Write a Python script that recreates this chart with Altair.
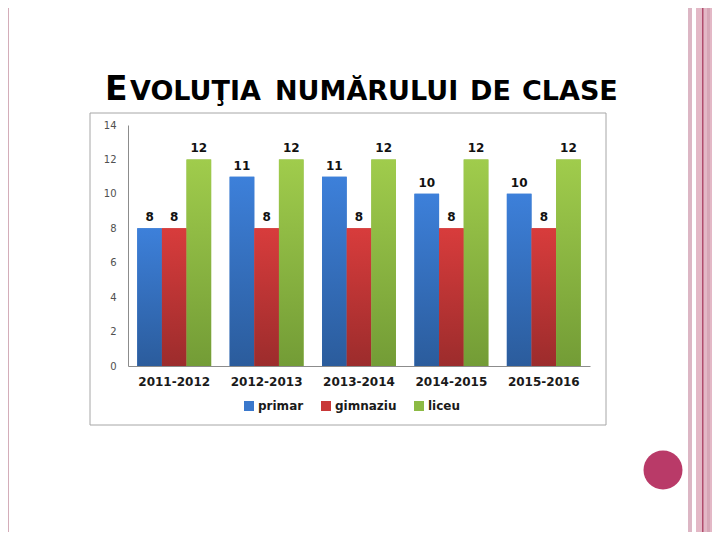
import altair as alt
import pandas as pd

years = ["2011-2012", "2012-2013", "2013-2014", "2014-2015", "2015-2016"]
series_names = ["primar", "gimnaziu", "liceu"]
primar = [8, 11, 11, 10, 10]
gimnaziu = [8, 8, 8, 8, 8]
liceu = [12, 12, 12, 12, 12]
y_ticks = [0, 2, 4, 6, 8, 10, 12, 14]

flat_colors = ["#3a78cc", "#c83838", "#8cba44"]
grad_colors = {
    "primar": ("#3d80da", "#2b5c9c"),
    "gimnaziu": ("#d83c3c", "#9c2c2c"),
    "liceu": ("#a0cc4c", "#739c36"),
}

rows = []
for i, yr in enumerate(years):
    for s, vals in zip(series_names, [primar, gimnaziu, liceu]):
        rows.append({"an": yr, "serie": s, "clase": vals[i]})
df = pd.DataFrame(rows)

FONT = "DejaVu Sans"

x_axis = alt.Axis(labelAngle=0, labelFont=FONT, labelFontWeight="bold",
                  labelFontSize=12, labelColor="#1a1a1a", ticks=False,
                  labelPadding=10, domainColor="#8c8c8c", grid=False)
y_axis = alt.Axis(values=y_ticks, labelFont=FONT, labelFontSize=10,
                  labelColor="#505050", ticks=False, labelPadding=12,
                  labelOverlap=False, domainColor="#8c8c8c", grid=False)

x_enc = alt.X("an:N", sort=years, title=None,
              scale=alt.Scale(paddingInner=0.2, paddingOuter=0.1), axis=x_axis)
xo_enc = alt.XOffset("serie:N", scale=alt.Scale(domain=series_names, paddingInner=0, paddingOuter=0))
y_enc = alt.Y("clase:Q", title=None, scale=alt.Scale(domain=[0, 14], nice=False), axis=y_axis)

base_bars = alt.Chart(df).mark_bar().encode(
    x=x_enc, xOffset=xo_enc, y=y_enc,
    color=alt.Color("serie:N", scale=alt.Scale(domain=series_names, range=flat_colors),
                    legend=alt.Legend(title=None, orient="none", legendX=115, legendY=275,
                                      direction="horizontal", symbolType="square",
                                      symbolSize=100, symbolStrokeWidth=0,
                                      labelFont=FONT, labelFontWeight="bold",
                                      labelFontSize=12, labelColor="#1a1a1a",
                                      labelOffset=3, columnPadding=16)),
)

grad_layers = []
for s in series_names:
    top, bot = grad_colors[s]
    grad = alt.LinearGradient(gradient="linear", x1=0, x2=0, y1=0, y2=1,
                              stops=[alt.GradientStop(offset=0, color=top),
                                     alt.GradientStop(offset=1, color=bot)])
    grad_layers.append(
        alt.Chart(df).transform_filter(alt.datum.serie == s)
        .mark_bar(color=grad).encode(
            x=alt.X("an:N", sort=years, title=None, axis=x_axis),
            xOffset="serie:N",
            y=alt.Y("clase:Q", title=None, axis=y_axis))
    )

labels = alt.Chart(df).mark_text(font=FONT, fontWeight="bold", fontSize=12,
                                 color="#111111", dy=-7, baseline="alphabetic").encode(
    x=alt.X("an:N", sort=years, title=None, axis=x_axis),
    xOffset="serie:N",
    y=alt.Y("clase:Q", title=None, axis=y_axis),
    text="clase:Q")

one = pd.DataFrame({"k": [0]})

def rect(x, x2, y, y2, **kw):
    return alt.Chart(one).mark_rect(**kw).encode(
        x=alt.value(x), x2=alt.value(x2), y=alt.value(y), y2=alt.value(y2))

frame = rect(-38, 478, -12, 300, fillOpacity=0, stroke="#a6a6a6", strokeWidth=1)
left_line = rect(-125, -119, -125, 420, color="#d4adb9")
stripe1 = rect(560, 564, -125, 420, color="#dcb6c4")
stripe2 = rect(568, 600, -125, 420, color="#e3b8c6")
stripe3 = rect(579, 582, -125, 420, color="#d6a6b6")
dark_line = rect(574, 575.5, -125, 420, color="#b04c6c")

circle = alt.Chart(one).mark_point(shape="circle", filled=True, size=1520,
                                   color="#b93a68", opacity=1).encode(
    x=alt.value(535), y=alt.value(345))

def word(txt, x, size):
    return alt.Chart(one).mark_text(text=txt, font=FONT, fontWeight="bold", fontSize=size,
                                    color="#000000", align="left", baseline="alphabetic").encode(
        x=alt.value(x), y=alt.value(-25))

title_words = [word("E", -23, 33), word("VOLUŢIA", 2, 27), word("NUMĂRULUI", 147, 27),
               word("DE", 342, 27), word("CLASE", 394, 27)]

chart = alt.layer(
    left_line, stripe1, stripe2, stripe3, dark_line, circle, frame,
    base_bars, *grad_layers, labels, *title_words
).properties(
    width=462, height=241,
    padding={"left": 120, "top": 117, "right": 122, "bottom": 166},
    autosize=alt.AutoSizeParams(type="none"),
    background="white",
).configure_view(stroke=None).configure_axisY(labelOverlap=False)

chart.save("out.html", embed_options={"renderer": "svg", "actions": False})
